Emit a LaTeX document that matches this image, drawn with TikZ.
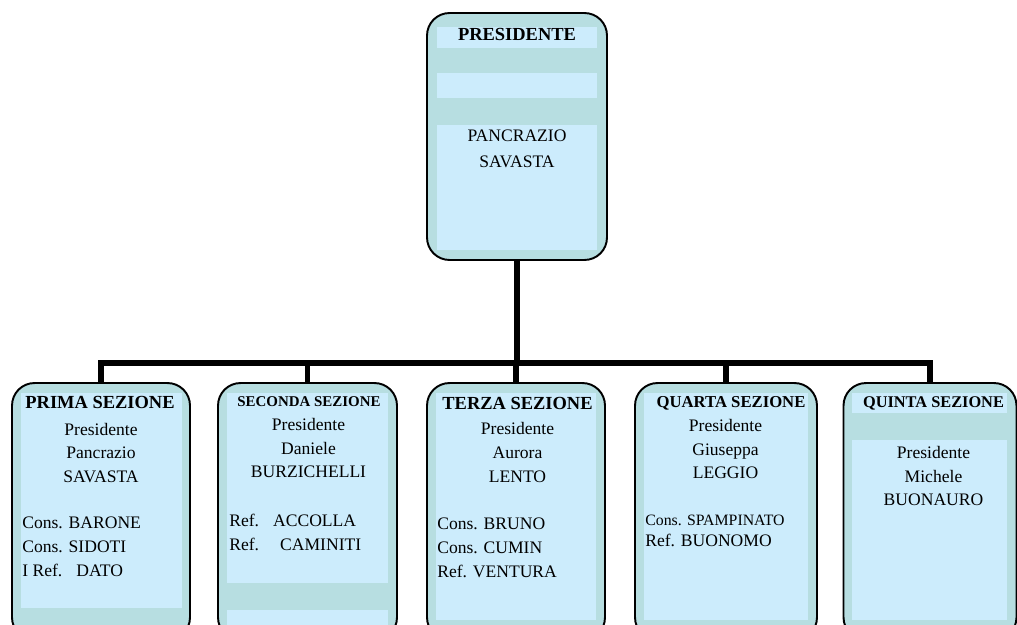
\documentclass[tikz,border=0pt]{standalone}
\usepackage{fontspec}
\setmainfont{Liberation Serif}
\usepackage{tikz}
\definecolor{boxteal}{RGB}{183,222,225}
\definecolor{boxblue}{RGB}{204,236,252}
\tikzstyle{office}=[shape=rectangle,rounded corners=0.45cm,draw=black,line width=1.1pt,fill=boxteal,inner sep=0pt]
\tikzstyle{band}=[fill=boxblue]
\tikzstyle{title}=[inner sep=0pt,font=\bfseries\fontsize{10.5}{12}\selectfont]
\tikzstyle{names}=[inner sep=0pt,align=center,font=\fontsize{10}{13.4}\selectfont]
\tikzstyle{members}=[inner sep=0pt,align=left,anchor=west,font=\fontsize{10}{13.6}\selectfont]
\tikzstyle{link}=[line width=3.4pt,to path={|- (\tikztotarget)}]

\begin{document}
\begin{tikzpicture}[x=0.02cm,y=-0.02cm]
\useasboundingbox (0,0) rectangle (1017,625);
\clip (0,0) rectangle (1017,625);
% president
\node[office,minimum width=3.6cm,minimum height=4.94cm] (pres) at (517,136.5) {};
\coordinate (bar) at (517,363);
\draw[line width=3.4pt] (pres) -- (bar);
% sections
\node[office,minimum width=3.56cm,minimum height=5.14cm] (s1) at (101,511.5) {}
    edge [link] (bar);
\node[office,minimum width=3.58cm,minimum height=5.14cm] (s2) at (307.5,511.5) {}
    edge [link] (bar);
\node[office,minimum width=3.56cm,minimum height=5.14cm] (s3) at (516,511.5) {}
    edge [link] (bar);
\node[office,minimum width=3.64cm,minimum height=5.14cm] (s4) at (726,511.5) {}
    edge [link] (bar);
\node[office,minimum width=3.46cm,minimum height=5.14cm] (s5) at (930,511.5) {}
    edge [link] (bar);
% bands
\fill[band] (437,27) rectangle (597,48);
\fill[band] (437,73) rectangle (597,98);
\fill[band] (437,125) rectangle (597,250);
\fill[band] (21,393) rectangle (182,608);
\fill[band] (227,393) rectangle (388,583);
\fill[band] (227,610) rectangle (388,630);
\fill[band] (436,393) rectangle (596,620);
\fill[band] (644,393) rectangle (808,620);
\fill[band] (852,393) rectangle (1007,413);
\fill[band] (852,440) rectangle (1007,620);
% texts
\node[title] (presT) at (517,34) {PRESIDENTE};
\node[names,font=\fontsize{10}{14.7}\selectfont] (presN) at (517,149) {PANCRAZIO\\SAVASTA};
\node[title] (t1) at (100,402) {PRIMA SEZIONE};
\node[names] (n1) at (101,453) {Presidente\\Pancrazio\\SAVASTA};
\node[members] (m1) at (22,547) {Cons. BARONE\\Cons. SIDOTI\\I Ref.\hspace{8pt}DATO};
\node[title,font=\bfseries\fontsize{8.5}{10}\selectfont] (t2) at (309,402) {SECONDA SEZIONE};
\node[names] (n2) at (308.5,448) {Presidente\\Daniele\\BURZICHELLI};
\node[members] (m2) at (229,532) {Ref.\hspace{8pt}ACCOLLA\\Ref.\hspace{12pt}CAMINITI};
\node[title] (t3) at (517.5,403) {TERZA SEZIONE};
\node[names] (n3) at (517.5,452.5) {Presidente\\Aurora\\LENTO};
\node[members] (m3) at (437,548) {Cons. BRUNO\\Cons. CUMIN\\Ref. VENTURA};
\node[title,font=\bfseries\fontsize{9.5}{11}\selectfont] (t4) at (731,403) {QUARTA SEZIONE};
\node[names] (n4) at (725.5,449) {Presidente\\Giuseppa\\LEGGIO};
\node[members,font=\fontsize{10}{12}\selectfont] (m4) at (645,530.5) {{\fontsize{9}{12}\selectfont Cons. SPAMPINATO}\\Ref. BUONOMO};
\node[title,font=\bfseries\fontsize{9.3}{11}\selectfont] (t5) at (933.5,403) {QUINTA SEZIONE};
\node[names] (n5) at (933.5,476) {Presidente\\Michele\\BUONAURO};
\end{tikzpicture}
\end{document}
